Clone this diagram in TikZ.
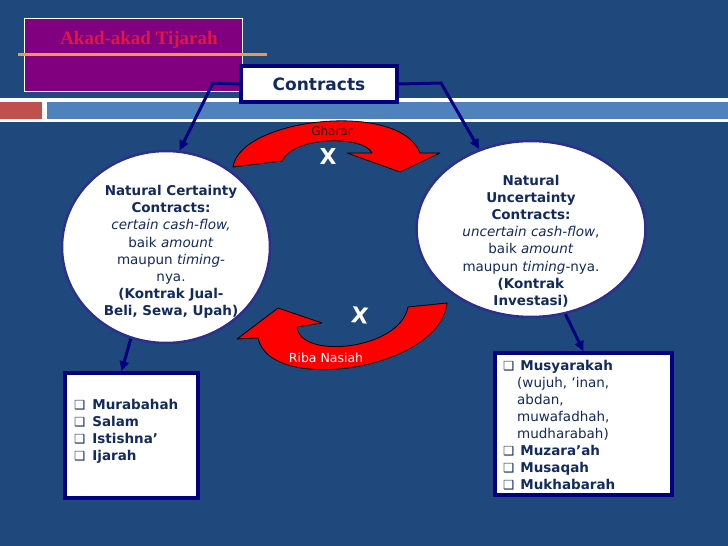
\documentclass[tikz,border=0pt]{standalone}
\usepackage{fontspec}
\setmainfont{DejaVu Sans}
\newfontfamily\titlefont{Liberation Serif}
\usetikzlibrary{arrows.meta,shapes.geometric,calc}
\definecolor{bg}{HTML}{1F497D}
\definecolor{bandblue}{HTML}{4F81BD}
\definecolor{bandred}{HTML}{C0504D}
\definecolor{orangeline}{HTML}{F79646}
\definecolor{purplebox}{HTML}{800080}
\definecolor{titlered}{HTML}{E3173E}
\definecolor{navyline}{HTML}{000080}
\definecolor{ellborder}{HTML}{2D2F8F}
\definecolor{txtnavy}{HTML}{132A5E}
\definecolor{ghararcol}{HTML}{2A0505}
\newcommand\cbx{{\fontsize{12.5}{12.5}\selectfont ❑}}
\begin{document}
\begin{tikzpicture}[x=1pt,y=-1pt,
  conn/.style={draw=navyline, line width=3pt, -{Triangle[length=10pt,width=9pt]}},
  ell/.style={ellipse, draw=ellborder, line width=2.5pt, fill=white, inner sep=0pt},
  elltext/.style={align=center, text=txtnavy, inner sep=0pt, font=\fontsize{13.5}{17.2}\selectfont},
  boxtext/.style={align=left, text=txtnavy, inner sep=0pt, anchor=north west, font=\fontsize{13.5}{17}\selectfont},
  lowbox/.style={draw=navyline, line width=3.5pt, fill=white, inner sep=0pt},
  redarrow/.style={fill=red, draw=black, line width=0.8pt, line join=round},
  xmark/.style={text=white, font=\bfseries\fontsize{22}{22}\selectfont, inner sep=0pt}
]
\useasboundingbox (0,0) rectangle (728,546);
\fill[bg] (0,0) rectangle (728,546);
% band
\fill[white] (0,98) rectangle (728,122);
\fill[bandred] (0,101.5) rectangle (42,119);
\fill[bandblue] (47,101.5) rectangle (728,119);
% title box
\node[draw=white, line width=1pt, fill=purplebox, minimum width=218pt, minimum height=73pt, inner sep=0pt] (T) at (133,54.5) {};
\node[text=titlered, font=\titlefont\bfseries\fontsize{19}{19}\selectfont, inner sep=0pt] (Tt) at (139,40) {Akad-akad Tijarah};
\draw[orangeline, line width=3pt] (18,54) -- (267,54);
% contracts box
\node[draw=navyline, line width=3.5pt, fill=white, minimum width=156pt, minimum height=36pt, inner sep=0pt, text=txtnavy, font=\bfseries\fontsize{17}{17}\selectfont] (C) at (319,84) {Contracts\hspace{12pt}};
% ellipses
\node[ell, minimum width=208pt, minimum height=192pt] (L) at (166,247) {};
\node[ell, minimum width=229pt, minimum height=176pt] (R) at (531,229) {};
% connectors
\coordinate (cl) at (213,83);
\coordinate (cr) at (441,83);
\draw[conn] (C.west) -- (cl) -- (L.82);
\draw[conn] (C.east) -- (cr) -- (R.123);
% lower boxes
\node[lowbox, minimum width=133pt, minimum height=125pt] (LB) at (131.5,435.5) {};
\node[lowbox, minimum width=177pt, minimum height=142pt] (RB) at (583.5,424) {};
\draw[conn] (L.249) -- ($(LB.north)+(-10,0)$);
\draw[conn] (R.292) -- (RB.north);
% red arrows
\path[redarrow] (233,167) .. controls (240,118) and (400,100) .. (420,153) -- (440,153) -- (400,172) -- (347,153) -- (372,153) .. controls (365,136) and (295,135) .. (282,161) -- cycle;
\path[redarrow] (447,303) .. controls (440,370) and (270,395) .. (258,338) -- (237,339) -- (278,308) -- (322,323) -- (297,327) .. controls (300,360) and (400,350) .. (408,307) -- cycle;
\node[text=ghararcol, font=\fontsize{12}{12}\selectfont, inner sep=0pt] (G) at (332,131) {Gharar};
\node[text=white, font=\fontsize{12.5}{12.5}\selectfont, inner sep=0pt] (RN) at (326,358) {Riba Nasiah};
\node[xmark] (X1) at (328,156) {X};
\node[xmark, rotate=-6] (X2) at (360,315) {X};
% ellipse texts
\node[elltext] (Lt) at (171,252) {\textbf{Natural Certainty}\\ \textbf{Contracts:}\\ \textit{certain cash-flow,}\\ baik \textit{amount}\\ maupun \textit{timing}-\\ nya.\\ \textbf{(Kontrak Jual-}\\ \textbf{Beli, Sewa, Upah)}};
\node[elltext] (Rt) at (531,241) {\textbf{Natural}\\ \textbf{Uncertainty}\\ \textbf{Contracts:}\\ \textit{uncertain cash-flow},\\ baik \textit{amount}\\ maupun \textit{timing}-nya.\\ \textbf{(Kontrak}\\ \textbf{Investasi)}};
% box texts
\node[boxtext] (LBt) at (74,399.5) {\cbx\hspace{7pt}\textbf{Murabahah}\\ \cbx\hspace{7pt}\textbf{Salam}\\ \cbx\hspace{7pt}\textbf{Istishna’}\\ \cbx\hspace{7pt}\textbf{Ijarah}};
\node[boxtext] (RBt) at (503,360.5) {\cbx\hspace{6pt}\textbf{Musyarakah}\\ \hspace*{14pt}(wujuh, ‘inan,\\ \hspace*{14pt}abdan,\\ \hspace*{14pt}muwafadhah,\\ \hspace*{14pt}mudharabah)\\ \cbx\hspace{6pt}\textbf{Muzara’ah}\\ \cbx\hspace{6pt}\textbf{Musaqah}\\ \cbx\hspace{6pt}\textbf{Mukhabarah}};
\end{tikzpicture}
\end{document}
